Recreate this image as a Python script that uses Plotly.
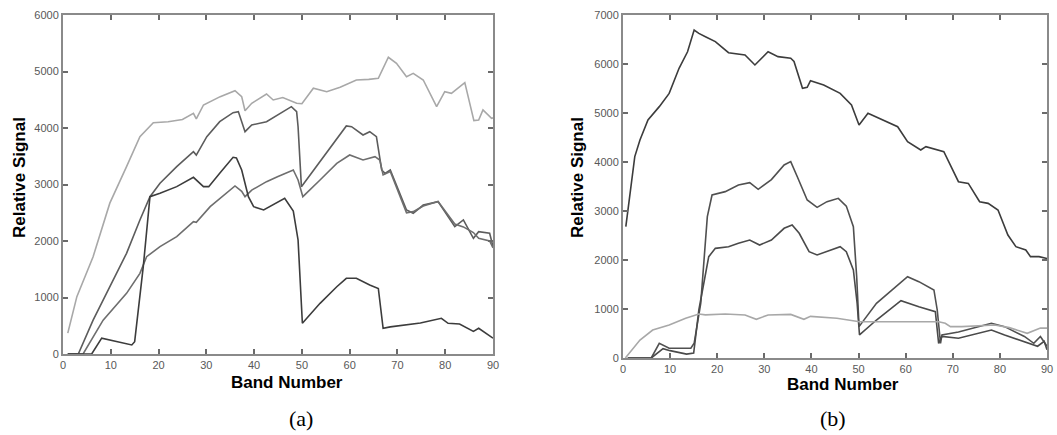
import plotly.graph_objects as go

# ---------------- Panel (a) ----------------
a1_band = [1, 2.9, 6.3, 9.8, 13.3, 16.1, 18.9, 22, 25, 27.3, 27.9, 29.4, 32.9, 36, 37.4, 38.1, 39.5, 42.6, 44, 46,
           48.9, 50, 52.4, 55.2, 58, 61.4, 64, 66, 68.1, 69.8, 71.9, 73.3, 75.4, 78.2, 79.9, 81.3, 84.1, 86, 87,
           87.9, 89.7, 90]
a1_val = [370, 1015, 1722, 2670, 3315, 3846, 4094, 4110, 4150, 4260, 4160, 4407, 4555, 4660, 4555, 4306, 4437, 4602,
          4496, 4540, 4437, 4430, 4703, 4643, 4720, 4850, 4860, 4880, 5252, 5145, 4909, 4968, 4850, 4378, 4643, 4614,
          4803, 4130, 4140, 4319, 4172, 4180]

a2_band = [1, 3.2, 6.3, 9.8, 13.3, 16.1, 18.2, 20.3, 23.8, 27.3, 27.9, 30.1, 32.8, 35.6, 36.7, 38.1, 39.5, 42.6, 45,
           47.8, 48.9, 49.2, 49.9, 54.5, 59.3, 60.4, 62.8, 64.2, 65.6, 66.7, 67.4, 68.5, 71.9, 73.3, 75.4, 78.5, 82,
           83.8, 85.9, 87, 89.3, 90]
a2_val = [0, 0, 600, 1190, 1782, 2372, 2785, 3022, 3315, 3580, 3520, 3846, 4112, 4271, 4290, 3935, 4053, 4112, 4230,
          4378, 4290, 4023, 2962, 3492, 4036, 4023, 3876, 3935, 3846, 3257, 3197, 3257, 2549, 2490, 2637, 2696, 2253,
          2372, 2047, 2165, 2136, 1900]

a3_band = [1, 4.2, 8.4, 13.3, 16.1, 17.5, 20.3, 23.8, 27.3, 27.9, 30.8, 34.2, 36, 37.4, 38.1, 39.5, 42.6, 45, 48.2,
           49.2, 50.2, 53.8, 57.3, 60, 62.8, 65.3, 66.3, 67, 68.5, 71.9, 73.3, 75.4, 78.5, 82, 83.8, 85.9, 87, 89.3, 90]
a3_val = [0, 0, 600, 1074, 1428, 1722, 1900, 2076, 2342, 2330, 2607, 2844, 2974, 2880, 2785, 2900, 3050, 3140, 3257,
          3080, 2785, 3080, 3375, 3522, 3434, 3492, 3434, 3170, 3230, 2500, 2520, 2620, 2700, 2300, 2250, 2150, 2050,
          2000, 1880]

a4_band = [1, 6, 8.1, 11.9, 14.4, 15, 16.8, 18.2, 20.3, 23.8, 27.3, 29.4, 30.5, 32.8, 35.6, 36.3, 37.4, 38.8, 39.9,
           42, 44, 46.4, 48.2, 49.2, 50.1, 53.8, 57.3, 59.3, 61.4, 64.2, 66, 67, 68.5, 71.3, 74.8, 79.2, 80.6, 83,
           85.9, 87, 90]
a4_val = [0, 0, 280, 200, 160, 218, 1545, 2785, 2844, 2962, 3127, 2962, 2962, 3198, 3481, 3470, 3257, 2785, 2607,
          2549, 2637, 2755, 2530, 2018, 543, 897, 1190, 1340, 1340, 1220, 1160, 455, 480, 510, 550, 632, 543, 530,
          400, 455, 280]

# ---------------- Panel (b) ----------------
b1_band = [0.6, 1, 1.5, 2.5, 3.6, 5.3, 7.7, 9.8, 11.9, 13.7, 15.1, 16.1, 17.5, 19.6, 22.4, 25.9, 28, 30.8, 32.9, 35.6,
           36.3, 38.1, 39.1, 39.8, 42.6, 45, 46.1, 48.5, 50.1, 52, 55.9, 58.3, 60.4, 63.2, 64.3, 68.1, 71.2, 73.3,
           75.7, 77.5, 79.6, 81.7, 83.4, 85.5, 86.5, 88.3, 90]
b1_val = [2680, 3000, 3430, 4110, 4450, 4857, 5130, 5400, 5912, 6250, 6694, 6625, 6558, 6456, 6231, 6184, 5980, 6250,
          6150, 6117, 6050, 5505, 5525, 5660, 5570, 5456, 5400, 5164, 4756, 4994, 4823, 4720, 4415, 4245, 4313, 4211,
          3598, 3564, 3190, 3156, 3020, 2510, 2272, 2204, 2068, 2068, 2030]

b2_band = [1, 6, 7.7, 9.8, 14.4, 15.1, 16.5, 17.9, 18.9, 21.7, 24.5, 26.9, 28.7, 31.5, 34.2, 35.6, 37, 39.1, 41.2,
           43.3, 45.7, 47.4, 48.9, 49.6, 50.1, 53.8, 60.4, 62.8, 66, 66.7, 67.4, 67.7, 71.2, 78.2, 81, 85.2, 87.2,
           88.6, 90]
b2_val = [0, 0, 300, 198, 198, 300, 1116, 2884, 3327, 3395, 3531, 3578, 3442, 3640, 3939, 4007, 3700, 3225, 3075,
          3191, 3259, 3100, 2680, 1660, 640, 1116, 1660, 1558, 1388, 980, 300, 470, 530, 708, 640, 440, 300, 440, 240]

b3_band = [1, 6, 8.5, 10, 13.5, 15, 16.1, 18.2, 19.6, 22.4, 24.5, 26.9, 29, 31.5, 34.2, 35.9, 37.4, 39.5, 41.2, 43.3,
           46.1, 47.4, 48.9, 49.7, 50.2, 53.8, 59, 62.8, 66.3, 67, 67.7, 71.2, 78.2, 81, 85.2, 88, 89.4, 90]
b3_val = [0, 0, 190, 150, 80, 100, 980, 2068, 2238, 2272, 2340, 2408, 2306, 2408, 2647, 2714, 2545, 2170, 2102, 2170,
          2272, 2170, 1796, 1116, 470, 775, 1170, 1048, 946, 300, 440, 402, 571, 470, 340, 240, 340, 170]

b4_band = [0.5, 3.6, 6.3, 9.8, 13.3, 16.1, 17.5, 21.7, 25.9, 28.3, 30.8, 35.6, 38.4, 39.8, 45.4, 50.2, 57.1, 64.1, 67,
           68.4, 69.5, 71.9, 78.9, 82, 85.8, 88.6, 90]
b4_val = [0, 367, 571, 673, 810, 898, 880, 898, 878, 790, 878, 890, 790, 850, 810, 741, 741, 741, 740, 708, 640, 640,
          673, 620, 503, 610, 610]

x_ticks = [0, 10, 20, 30, 40, 50, 60, 70, 80, 90]

W, H = 1057, 435


def px(x):
    return x / W


def py(y):
    return 1 - y / H


fig = go.Figure()

left_series = [
    (a1_band, a1_val, "#a8a8a8"),
    (a2_band, a2_val, "#5c5c5c"),
    (a3_band, a3_val, "#6e6e6e"),
    (a4_band, a4_val, "#3c3c3c"),
]
right_series = [
    (b1_band, b1_val, "#3c3c3c"),
    (b2_band, b2_val, "#505050"),
    (b3_band, b3_val, "#4a4a4a"),
    (b4_band, b4_val, "#a8a8a8"),
]

for xs, ys, c in left_series:
    fig.add_trace(go.Scatter(x=xs, y=ys, mode="lines", line=dict(color=c, width=1.6),
                             xaxis="x", yaxis="y", showlegend=False, hoverinfo="skip"))
for xs, ys, c in right_series:
    fig.add_trace(go.Scatter(x=xs, y=ys, mode="lines", line=dict(color=c, width=1.6),
                             xaxis="x2", yaxis="y2", showlegend=False, hoverinfo="skip"))

axis_common = dict(showline=True, linecolor="#8a8a8a", linewidth=2, mirror="ticks",
                   ticks="inside", ticklen=5, tickwidth=1.5, tickcolor="#6a6a6a",
                   showgrid=False, zeroline=False, automargin=False,
                   tickfont=dict(family="Liberation Sans, Arial", size=11, color="#585858"))

fig.update_layout(
    template="none",
    width=W, height=H, autosize=False,
    margin=dict(l=0, r=0, t=0, b=0),
    paper_bgcolor="white", plot_bgcolor="white",
    xaxis=dict(domain=[px(63), px(493)], range=[0, 90], tickvals=x_ticks, anchor="y", **axis_common),
    yaxis=dict(domain=[py(354), py(15)], range=[0, 6000], dtick=1000, anchor="x", **axis_common),
    xaxis2=dict(domain=[px(623), px(1047)], range=[0, 90], tickvals=x_ticks, anchor="y2", **axis_common),
    yaxis2=dict(domain=[py(358), py(15)], range=[0, 7000], dtick=1000, anchor="x2", **axis_common),
)

title_font = dict(family="Liberation Sans, Arial", size=17, color="black")
label_font = dict(family="Liberation Serif, Times New Roman", size=22, color="black")
ann = [
    dict(text="<b>Relative Signal</b>", x=px(19), y=py(178), textangle=-90, font=title_font),
    dict(text="<b>Relative Signal</b>", x=px(577), y=py(178), textangle=-90, font=title_font),
    dict(text="<b>Band Number</b>", x=px(287), y=py(382), font=title_font),
    dict(text="<b>Band Number</b>", x=px(843), y=py(384), font=title_font),
    dict(text="(a)", x=px(301), y=py(418), font=label_font),
    dict(text="(b)", x=px(833), y=py(418), font=label_font),
]
for a in ann:
    fig.add_annotation(xref="paper", yref="paper", showarrow=False, xanchor="center", yanchor="middle", **a)

fig.write_html("out.html", config={"displayModeBar": False},
               post_script="document.body.style.margin='0';document.body.style.overflow='hidden';")
